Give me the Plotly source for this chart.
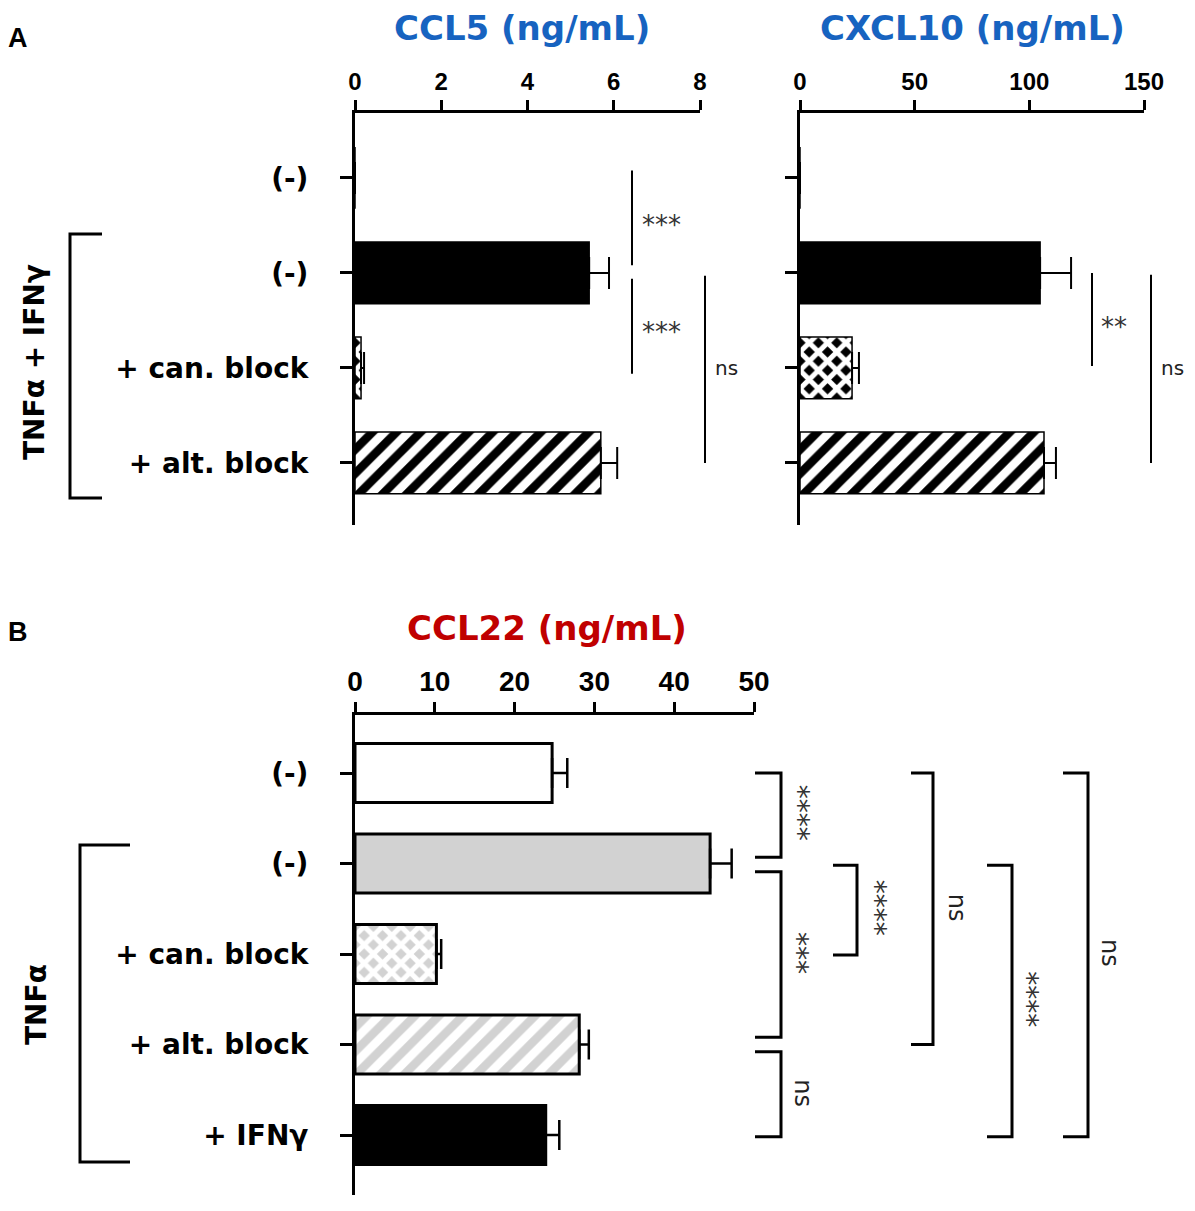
import plotly.graph_objects as go

W, H = 1195, 1211

# ---------------- data ----------------
cats_A = ["(-)", "(-)", "+ can. block", "+ alt. block"]
ccl5_mean = [0.0, 5.43, 0.14, 5.70]
ccl5_sem = [0.0, 0.46, 0.07, 0.38]
cxcl10_mean = [0.0, 104.7, 22.7, 106.4]
cxcl10_sem = [0.0, 13.5, 3.0, 5.2]
ticks_ccl5 = [0, 2, 4, 6, 8]
ticks_cxcl10 = [0, 50, 100, 150]

cats_B = ["(-)", "(-)", "+ can. block", "+ alt. block", "+ IFNγ"]
ccl22_mean = [24.7, 44.5, 10.2, 28.1, 23.9]
ccl22_sem = [1.9, 2.7, 0.6, 1.2, 1.7]
ticks_ccl22 = [0, 10, 20, 30, 40, 50]

# ---------------- helpers ----------------
def px(x):
    return x / W

def py(y):
    return 1 - y / H

BLUE = "#1763C0"
RED = "#C00000"
LGRAY = "#d2d2d2"

fig = go.Figure()

rowsA = list(range(len(cats_A)))
rowsB = list(range(len(cats_B)))

# per-bar styles: (color, pattern shape, fg, bg, solidity, size)
A_style = [
    ("white", "", None, None, 0.5, 17),
    ("black", "", None, None, 0.5, 17),
    ("black", "x", "white", "black", 0.62, 13),
    ("white", "/", "black", "white", 0.5, 17),
]
B_style = [
    ("white", "", None, None, 0.5, 17),
    (LGRAY, "", None, None, 0.5, 17),
    (LGRAY, "x", "white", LGRAY, 0.62, 13),
    ("white", "/", LGRAY, "white", 0.5, 17),
    ("black", "", None, None, 0.5, 17),
]


def add_bar(val, err, row, xa, ya, style, lw, cap, thick):
    color, shape, fg, bg, sol, size = style
    pat = dict(shape=shape)
    if shape:
        pat.update(fgcolor=fg, bgcolor=bg, solidity=sol, size=size, fillmode="replace")
    fig.add_trace(go.Bar(
        x=[val], y=[row], orientation="h", width=0.65,
        xaxis=xa, yaxis=ya,
        marker=dict(color=color, line=dict(color="black", width=lw), pattern=pat),
        error_x=dict(type="data", array=[err], arrayminus=[0], symmetric=False,
                     color="black", thickness=thick, width=cap),
        hoverinfo="skip",
    ))


for i in rowsA:
    add_bar(ccl5_mean[i], ccl5_sem[i], i, "x", "y", A_style[i], 1.5, 16, 2)
    add_bar(cxcl10_mean[i], cxcl10_sem[i], i, "x2", "y2", A_style[i], 1.5, 16, 2)
for i in rowsB:
    add_bar(ccl22_mean[i], ccl22_sem[i], i, "x3", "y3", B_style[i], 3, 15, 2.5)

tickfontA = dict(family="Liberation Sans", size=24, color="black", weight="bold")
tickfontB = dict(family="Liberation Sans", size=28, color="black", weight="bold")
catfont = dict(family="DejaVu Sans", size=28, color="black", weight="bold")

common_x = dict(side="top", ticks="outside", ticklen=10, tickwidth=3, tickcolor="black",
                showline=True, linewidth=3, linecolor="black", showgrid=False,
                zeroline=False, fixedrange=True, automargin=False)
common_y = dict(ticks="outside", ticklen=12, tickwidth=3, tickcolor="black",
                showline=True, linewidth=3, linecolor="black", showgrid=False,
                zeroline=False, fixedrange=True, automargin=False)

yA_range = [3.653, -0.684]
yB_range = [4.663, -0.641]

fig.update_layout(
    width=W, height=H, margin=dict(l=0, r=0, t=0, b=0, pad=0, autoexpand=False),
    paper_bgcolor="white", plot_bgcolor="white", showlegend=False,
    barmode="overlay",
    xaxis=dict(domain=[px(355), px(700)], anchor="y", range=[0, 8],
               tickvals=ticks_ccl5, tickfont=tickfontA, **common_x),
    yaxis=dict(domain=[py(525), py(113)], anchor="x", range=yA_range,
               tickvals=rowsA, ticktext=cats_A, tickfont=catfont,
               ticklabelstandoff=26, **common_y),
    xaxis2=dict(domain=[px(800), px(1144)], anchor="y2", range=[0, 150],
                tickvals=ticks_cxcl10, tickfont=tickfontA, **common_x),
    yaxis2=dict(domain=[py(525), py(113)], anchor="x2", range=yA_range,
                tickvals=rowsA, showticklabels=False, **common_y),
    xaxis3=dict(domain=[px(355), px(754)], anchor="y3", range=[0, 50],
                tickvals=ticks_ccl22, tickfont=tickfontB, **common_x),
    yaxis3=dict(domain=[py(1195), py(715)], anchor="x3", range=yB_range,
                tickvals=rowsB, ticktext=cats_B, tickfont=catfont,
                ticklabelstandoff=26, **common_y),
)

ann = []
shapes = []


def note(text, x, y, font, yref="paper", angle=0, xshift=0, yshift=0):
    ann.append(dict(text=text, x=x, y=y, xref="paper", yref=yref, showarrow=False,
                    xanchor="center", yanchor="middle", textangle=angle,
                    xshift=xshift, yshift=yshift, font=font))


# titles and panel letters
titlefont = dict(family="DejaVu Sans", size=34, weight="bold")
note("CCL5 (ng/mL)", px(522), py(28), dict(color=BLUE, **titlefont))
note("CXCL10 (ng/mL)", px(972), py(28), dict(color=BLUE, **titlefont))
note("CCL22 (ng/mL)", px(547), py(628), dict(color=RED, **titlefont))
letterfont = dict(family="Liberation Sans", size=27, color="black", weight="bold")
note("A", px(18), py(38), letterfont)
note("B", px(18), py(632), letterfont)

# group labels + left brackets
note("TNFα + IFNγ", px(34), py(362), catfont, angle=-90)
note("TNFα", px(36), py(1005), catfont, angle=-90)


def left_bracket(x0, x1, y0, y1):
    shapes.append(dict(type="path", xref="paper", yref="paper",
                       path=f"M {px(x1)},{py(y0)} L {px(x0)},{py(y0)} L {px(x0)},{py(y1)} L {px(x1)},{py(y1)}",
                       line=dict(color="black", width=3)))


left_bracket(70, 102, 234, 498)
left_bracket(80, 130, 845, 1162)


# ---- Panel A significance lines (x in pixels, y in data rows) ----
def vline(xp, r0, r1, yref, w=2):
    shapes.append(dict(type="line", xref="paper", yref=yref, x0=px(xp), x1=px(xp),
                       y0=r0, y1=r1, line=dict(color="black", width=w)))


starfont = dict(family="DejaVu Sans", size=26, color="#333333")
nsfontA = dict(family="DejaVu Sans", size=20, color="#222222")

vline(632, -0.08, 0.92, "y")
vline(632, 1.06, 2.06, "y")
vline(705, 1.03, 3.0, "y")
note("***", px(661), 0.42, starfont, yref="y", yshift=-7)
note("***", px(661), 1.55, starfont, yref="y", yshift=-7)
note("ns", px(726), 2.0, nsfontA, yref="y")

vline(1092, 1.0, 1.98, "y2")
vline(1151, 1.02, 3.0, "y2")
note("**", px(1114), 1.5, starfont, yref="y2", yshift=-7)
note("ns", px(1172), 2.0, nsfontA, yref="y2")


# ---- Panel B brackets ----
def right_bracket(x0, x1, r0, r1, w=3):
    shapes.append(dict(type="path", xref="paper", yref="y3",
                       path=f"M {px(x0)},{r0} L {px(x1)},{r0} L {px(x1)},{r1} L {px(x0)},{r1}",
                       line=dict(color="black", width=w)))


starfontB = dict(family="DejaVu Sans", size=28, color="#333333")
nsfontB = dict(family="DejaVu Sans", size=24, color="#222222")


def blabel(text, xp, r, font, star):
    note(text, px(xp), r, font, yref="y3", angle=90, xshift=-5 if star else 0)


right_bracket(755, 781, 0.0, 0.93)
blabel("****", 803, 0.44, starfontB, True)
right_bracket(755, 781, 1.09, 2.92)
blabel("***", 803, 1.99, starfontB, True)
right_bracket(755, 781, 3.08, 4.02)
blabel("ns", 803, 3.54, nsfontB, False)
right_bracket(833, 857, 1.02, 2.01)
blabel("****", 880, 1.49, starfontB, True)
right_bracket(911, 933, 0.0, 3.0)
blabel("ns", 957, 1.49, nsfontB, False)
right_bracket(987, 1012, 1.02, 4.02)
blabel("****", 1033, 2.50, starfontB, True)
right_bracket(1063, 1088, 0.0, 4.02)
blabel("ns", 1110, 1.99, nsfontB, False)

fig.update_layout(annotations=ann, shapes=shapes)

page_css = """
document.documentElement.style.margin='0px';
document.body.style.margin='0px';
document.documentElement.style.overflow='hidden';
document.body.style.overflow='hidden';
"""

fig.write_html("out.html", config={"displayModeBar": False}, post_script=page_css)
